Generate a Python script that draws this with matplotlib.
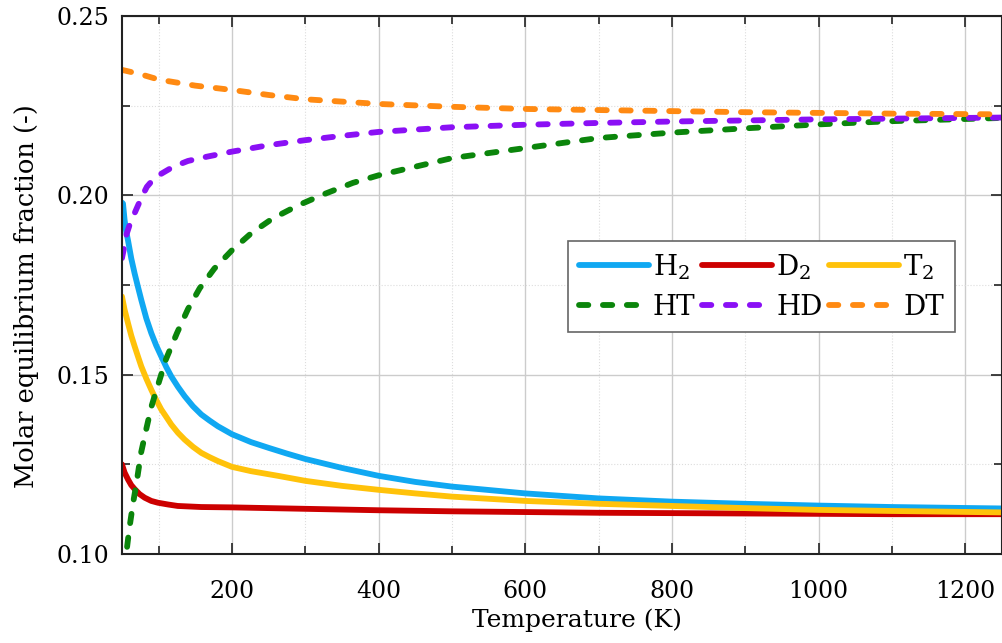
import matplotlib
matplotlib.use("Agg")
import matplotlib.pyplot as plt
from matplotlib.ticker import MultipleLocator, FormatStrFormatter

# values
t_h2 = [50, 51.4, 53.6, 55.9, 58.2, 62.7, 67.3, 71.8, 76.4, 83.2, 90, 96.8,
        103.6, 110.5, 117.3, 126.4, 135.5, 146.8, 158.2, 169.5, 180.9, 200,
        226, 250, 275, 300, 350, 400, 450, 500, 600, 700, 800, 900, 1000, 1100,
        1250]
h2 = [0.1980, 0.1977, 0.1931, 0.1898, 0.1875, 0.1824, 0.1782, 0.1745, 0.1708,
      0.1657, 0.1616, 0.1581, 0.1551, 0.1521, 0.1495, 0.1466, 0.1440, 0.1412,
      0.1389, 0.1372, 0.1356, 0.1334, 0.1312, 0.1296, 0.1280, 0.1265, 0.1240,
      0.1218, 0.1201, 0.1188, 0.1169, 0.1155, 0.1146, 0.1140, 0.1135, 0.1131,
      0.1127]

t_t2 = [50, 53.6, 58.2, 62.7, 67.3, 71.8, 76.4, 83.2, 90, 96.8, 103.6, 110.5,
        117.3, 126.4, 135.5, 146.8, 158.2, 169.5, 180.9, 200, 226, 262.7, 300,
        350, 400, 450, 500, 600, 700, 800, 900, 1000, 1100, 1250]
t2 = [0.1718, 0.1681, 0.1644, 0.1609, 0.1579, 0.1551, 0.1523, 0.1489, 0.1458,
      0.1429, 0.1403, 0.1382, 0.1361, 0.1338, 0.1319, 0.1299, 0.1282, 0.1270,
      0.1259, 0.1243, 0.1231, 0.1218, 0.1204, 0.1190, 0.1179, 0.1169, 0.1160,
      0.1148, 0.1140, 0.1134, 0.1128, 0.1123, 0.1120, 0.1116]

t_d2 = [50, 53.6, 58.2, 62.7, 67.3, 74, 81, 90, 99, 113, 126, 158, 200, 300,
        400, 500, 600, 700, 800, 900, 1000, 1100, 1250]
d2 = [0.1250, 0.1227, 0.1208, 0.1192, 0.1181, 0.1167, 0.1157, 0.1148, 0.1143,
      0.1138, 0.1134, 0.1131, 0.1130, 0.1126, 0.1122, 0.1119, 0.1117, 0.1115,
      0.1114, 0.1113, 0.1112, 0.1111, 0.1111]

t_ht = [57, 60, 65, 70, 76, 83, 90, 100, 110, 125, 140, 156, 176, 200, 226, 255,
        290, 325, 365, 400, 500, 600, 700, 800, 900, 1000, 1100, 1250]
ht = [0.1020, 0.1070, 0.1140, 0.1200, 0.1282, 0.1347, 0.1410, 0.1477, 0.1543,
      0.1616, 0.1683, 0.1741, 0.1796, 0.1847, 0.1894, 0.1935, 0.1972, 0.2003,
      0.2035, 0.2056, 0.2104, 0.2132, 0.2160, 0.2175, 0.2187, 0.2198, 0.2207,
      0.2216]

t_hd = [50, 52, 56, 60, 65, 71, 78, 84, 95, 110, 120, 140, 166, 200, 250, 300,
        350, 400, 500, 600, 700, 800, 900, 1000, 1100, 1250]
hd = [0.1825, 0.1845, 0.1890, 0.1915, 0.1940, 0.1968, 0.2000, 0.2024, 0.2050,
      0.2068, 0.2080, 0.2096, 0.2108, 0.2122, 0.2140, 0.2154, 0.2166, 0.2177,
      0.2190, 0.2197, 0.2202, 0.2206, 0.2209, 0.2212, 0.2214, 0.2217]

t_dt = [50, 75, 100, 150, 200, 250, 300, 400, 500, 600, 700, 800, 900, 1000,
        1100, 1250]
dt = [0.2350, 0.2338, 0.2323, 0.2306, 0.2294, 0.2280, 0.2268, 0.2255, 0.2247,
      0.2241, 0.2238, 0.2235, 0.2232, 0.2230, 0.2228, 0.2226]

plt.rcParams['font.family'] = ['DejaVu Serif']
plt.rcParams['mathtext.fontset'] = 'dejavuserif'

fig = plt.figure(figsize=(10.03, 6.43), dpi=100)
ax = fig.add_axes([0.1216, 0.1384, 0.8774, 0.8366])

lw = 4.2
dash = (0, (1.6, 2.5))
l_h2, = ax.plot(t_h2, h2, color='#10a8f2', lw=lw, label='H$_2$', solid_capstyle='round')
l_d2, = ax.plot(t_d2, d2, color='#cc0000', lw=lw, label='D$_2$', solid_capstyle='round')
l_t2, = ax.plot(t_t2, t2, color='#ffc20a', lw=lw, label='T$_2$', solid_capstyle='round')
l_ht, = ax.plot(t_ht, ht, color='#0b850b', lw=lw, ls=dash, dash_capstyle='round', label='HT')
l_hd, = ax.plot(t_hd, hd, color='#8a10f5', lw=lw, ls=dash, dash_capstyle='round', label='HD')
l_dt, = ax.plot(t_dt, dt, color='#ff8a12', lw=lw, ls=dash, dash_capstyle='round', label='DT')

ax.set_xlim(50, 1250)
ax.set_ylim(0.10, 0.25)
ax.xaxis.set_major_locator(MultipleLocator(200))
ax.xaxis.set_minor_locator(MultipleLocator(100))
ax.yaxis.set_major_locator(MultipleLocator(0.05))
ax.yaxis.set_minor_locator(MultipleLocator(0.025))
ax.yaxis.set_major_formatter(FormatStrFormatter('%.2f'))

ax.grid(which='major', color='#cccccc', lw=1.0, ls='-')
ax.grid(which='minor', color='#dddddd', lw=0.8, ls=':')
ax.set_axisbelow(True)

ax.tick_params(which='both', direction='in', top=True, right=True,
               color='#222222', width=1.2)
ax.tick_params(which='major', length=8, labelsize=17)
ax.tick_params(which='minor', length=6)
ax.tick_params(axis='x', which='major', pad=19)
ax.tick_params(axis='y', which='major', pad=9)
for s in ax.spines.values():
    s.set_linewidth(1.5)
    s.set_color('#222222')

ax.set_xlabel('Temperature (K)', fontsize=18)
ax.set_ylabel('Molar equilibrium fraction (-)', fontsize=18.5)
ax.xaxis.set_label_coords(0.517, -0.101)
ax.yaxis.set_label_coords(-0.094, 0.48)

# legend fills by column, so order handles to get H2 D2 T2 / HT HD DT rows
handles = [l_h2, l_ht, l_d2, l_hd, l_t2, l_dt]
leg = ax.legend(handles=handles, labels=[h.get_label() for h in handles],
                ncol=3, loc='upper left', bbox_to_anchor=(0.507, 0.582),
                borderaxespad=0, fontsize=20, handlelength=2.5,
                handletextpad=0.15, columnspacing=0.25, labelspacing=0.45,
                fancybox=False, framealpha=1, edgecolor='#666666',
                borderpad=0.4)
leg.get_frame().set_linewidth(1.2)

fig.savefig('out.png', dpi=100)
